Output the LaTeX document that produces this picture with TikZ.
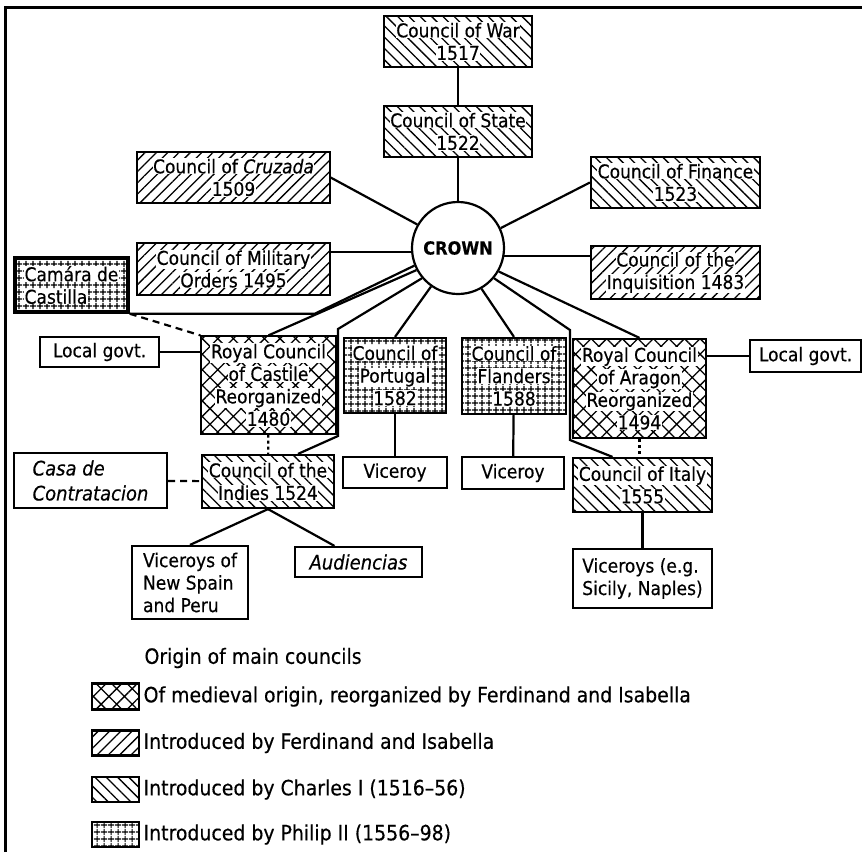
\documentclass[tikz,border=0pt]{standalone}
\usepackage{fontspec}
\setmainfont{DejaVu Sans Condensed}[FakeBold=0.4]
\usetikzlibrary{patterns.meta}
\tikzstyle{every node}=[font=\fontsize{19}{22.5}\selectfont]
\tikzstyle{box}=[draw, line width=2.2pt, align=center, inner sep=0pt]
\tikzstyle{charles}=[box, pattern={Lines[angle=-45,distance=8pt,line width=1.3pt]}]
\tikzstyle{ferdisa}=[box, pattern={Lines[angle=45,distance=8pt,line width=1.3pt]}]
\tikzstyle{medieval}=[box, pattern={Hatch[angle=45,distance=11pt,line width=1.3pt]}]
\tikzstyle{philip}=[box, pattern={Hatch[angle=0,distance=6.5pt,line width=1.2pt]}]
\tikzstyle{link}=[line width=2.2pt]
\tikzstyle{dashlink}=[link, dash pattern=on 7pt off 5pt]
\tikzstyle{dotlink}=[link, dash pattern=on 3pt off 3pt]
\tikzstyle{keytext}=[anchor=west, font=\fontsize{21}{24}\selectfont]
\newcommand{\wl}[1]{\colorbox{white}{#1}}
\setlength{\fboxsep}{0.5pt}

\begin{document}
\begin{tikzpicture}[x=1pt, y=-1pt]
	\useasboundingbox (0,0) rectangle (862,852);
	\draw[line width=3pt] (5,852) -- (5,7) -- (862,7);

	\node	[charles, minimum width=148pt, minimum height=51pt]	(war)		at (458,41.5)	{\wl{Council of War}\\\wl{1517}};
	\node	[charles, minimum width=148pt, minimum height=51pt]	(state)		at (458,131.5)	{\wl{Council of State}\\\wl{1522}};
	\node	[ferdisa, minimum width=193pt, minimum height=51pt]	(cruzada)	at (233.5,177.5)	{\wl{Council of \textit{Cruzada}}\\\wl{1509}};
	\node	[charles, minimum width=169pt, minimum height=51pt]	(finance)	at (675.5,182.5)	{\wl{Council of Finance}\\\wl{1523}};
	\node	[draw, circle, line width=2.2pt, minimum size=92pt, inner sep=0pt, font=\fontsize{18}{20}\selectfont\bfseries]	(crown)	at (458,248)	{CROWN};
	\node	[ferdisa, minimum width=193pt, minimum height=52pt]	(military)	at (233.5,269)	{\wl{Council of Military}\\\wl{Orders 1495}};
	\node	[ferdisa, minimum width=169pt, minimum height=53pt]	(inquis)	at (675.5,272.5)	{\wl{Council of the}\\\wl{Inquisition 1483}};
	\node	[philip, line width=3.5pt, align=left, minimum width=113pt, minimum height=54pt]	(camara)	at (71.5,285)	{\wl{Camára de}\\\wl{Castilla}};
	\node	[box, minimum width=119pt, minimum height=30pt]	(localL)	at (99.5,352)	{Local govt.};
	\node	[medieval, minimum width=135pt, minimum height=98pt]	(castile)	at (268.5,385)	{\wl{Royal Council}\\\wl{of Castile}\\\wl{Reorganized}\\\wl{1480}};
	\node	[philip, minimum width=102pt, minimum height=75pt]	(portugal)	at (395,375.5)	{\wl{Council of}\\\wl{Portugal}\\\wl{1582}};
	\node	[philip, minimum width=104pt, minimum height=76pt]	(flanders)	at (514,376)	{\wl{Council of}\\\wl{Flanders}\\\wl{1588}};
	\node	[medieval, minimum width=133pt, minimum height=99pt]	(aragon)	at (639.5,388.5)	{\wl{Royal Council}\\\wl{of Aragon}\\\wl{Reorganized}\\\wl{1494}};
	\node	[box, minimum width=111pt, minimum height=32pt]	(localR)	at (805.5,356)	{Local govt.};
	\node	[box, align=left, minimum width=153pt, minimum height=55pt, font=\fontsize{20}{25}\selectfont\itshape]	(casa)	at (90.5,480.5)	{Casa de\\Contratacion};
	\node	[charles, minimum width=132pt, minimum height=53pt]	(indies)	at (268,481.5)	{\wl{Council of the}\\\wl{Indies 1524}};
	\node	[box, minimum width=104pt, minimum height=31pt]	(viceroyP)	at (395,472.5)	{Viceroy};
	\node	[box, minimum width=102pt, minimum height=32pt]	(viceroyF)	at (513,473)	{Viceroy};
	\node	[charles, minimum width=139pt, minimum height=54pt]	(italy)		at (642.5,485)	{\wl{Council of Italy}\\\wl{1555}};
	\node	[box, align=left, minimum width=116pt, minimum height=73pt]	(newspain)	at (190,582.5)	{Viceroys of\\New Spain\\and Peru};
	\node	[box, minimum width=127pt, minimum height=30pt, font=\fontsize{20}{24}\selectfont\itshape]	(audiencias)	at (358.5,562)	{Audiencias};
	\node	[box, align=left, minimum width=139pt, minimum height=59pt]	(sicily)	at (642.5,578.5)	{Viceroys (e.g.\\Sicily, Naples)};

	% connectors
	\draw[link] (war) -- (state);
	\draw[link] (state) -- (crown);
	\draw[link] (cruzada.east) -- (crown.150);
	\draw[link] (finance.west) -- (crown.25);
	\draw[link] (crown.185) -- (crown.185 -| military.east);
	\draw[link] (crown.-10) -- (crown.-10 -| inquis.west);
	\draw[link] (camara.south east) -- ++(185,0) -- (crown.202);
	\draw[link] (castile.north) -- (crown.208);
	\draw[dashlink] (camara.south east) -- (castile.north west);
	\draw[link] (localL) -- (localL -| castile.west);
	\draw[link] (crown.220) -- (338,329) -- (338,436) -- ([xshift=30pt]indies.north);
	\draw[link] (crown.235) -- (portugal.north);
	\draw[link] (crown.300) -- (flanders.north);
	\draw[link] (crown.320) -- (570,330) -- (570,440) -- ([xshift=-30pt]italy.north);
	\draw[link] (crown.330) -- (aragon.north);
	\draw[link] (localR) -- (localR -| aragon.east);
	\draw[dotlink] (castile) -- (indies);
	\draw[dotlink] (aragon.south) -- (aragon.south |- italy.north);
	\draw[dashlink] (casa) -- (indies);
	\draw[link] (portugal) -- (viceroyP);
	\draw[link] (flanders) -- (viceroyF);
	\draw[link] (indies.south) -- (newspain.north);
	\draw[link] (indies.south) -- ([xshift=-24pt]audiencias.north);
	\draw[link] (italy) -- (sicily);

	% legend
	\node	[keytext]	(legtitle)	at (141,658)	{Origin of main councils};
	\node	[medieval, minimum width=47pt, minimum height=26pt]	(keymed)	at (115.5,696.5)	{};
	\node	[ferdisa, minimum width=47pt, minimum height=25pt]	(keyfi)	at (115.5,743)	{};
	\node	[charles, minimum width=47pt, minimum height=25pt]	(keych)	at (115.5,789.5)	{};
	\node	[philip, minimum width=47pt, minimum height=25pt]	(keyph)	at (115.5,834.5)	{};
	\node	[keytext]	(txtmed)	at (keymed.east)	{Of medieval origin, reorganized by Ferdinand and Isabella};
	\node	[keytext]	(txtfi)		at (keyfi.east)		{Introduced by Ferdinand and Isabella};
	\node	[keytext]	(txtch)		at (keych.east)		{Introduced by Charles I (1516--56)};
	\node	[keytext]	(txtph)		at (keyph.east)		{Introduced by Philip II (1556--98)};
\end{tikzpicture}
\end{document}
